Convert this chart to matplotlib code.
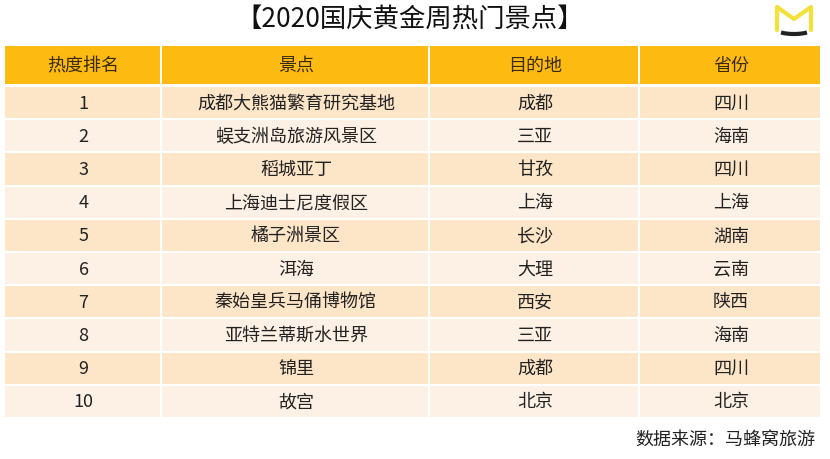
import matplotlib
matplotlib.use("Agg")
import matplotlib.pyplot as plt
from matplotlib.patches import Rectangle, Arc

plt.rcParams['font.family'] = ['Noto Sans CJK SC', 'DejaVu Sans']

title = "【2020国庆黄金周热门景点】"
headers = ["热度排名", "景点", "目的地", "省份"]
ranks = ["1", "2", "3", "4", "5", "6", "7", "8", "9", "10"]
spots = ["成都大熊猫繁育研究基地", "蜈支洲岛旅游风景区", "稻城亚丁", "上海迪士尼度假区",
         "橘子洲景区", "洱海", "秦始皇兵马俑博物馆", "亚特兰蒂斯水世界", "锦里", "故宫"]
cities = ["成都", "三亚", "甘孜", "上海", "长沙", "大理", "西安", "三亚", "成都", "北京"]
provinces = ["四川", "海南", "四川", "上海", "湖南", "云南", "陕西", "海南", "四川", "北京"]
source = "数据来源：马蜂窝旅游"

fig = plt.figure(figsize=(8.3, 4.6), dpi=100)
ax = fig.add_axes([0, 0, 1, 1])
ax.set_xlim(0, 830)
ax.set_ylim(460, 0)
ax.axis("off")

col_edges = [5, 162, 430, 640, 822]
header_top, header_h = 47, 38
row_top, row_h = 88, 33.2

ax.text(410, 20, title, ha="center", va="center", fontsize=19, fontweight="medium", color="#111111")

# header
for i, h in enumerate(headers):
    x0, x1 = col_edges[i], col_edges[i + 1]
    ax.add_patch(Rectangle((x0, header_top), x1 - x0 - 2, header_h, color="#fdbb11", lw=0))
    ax.text((x0 + x1) / 2, header_top + header_h / 2, h, ha="center", va="center",
            fontsize=13, color="#3a2a10")

rows = list(zip(ranks, spots, cities, provinces))
for r, vals in enumerate(rows):
    y = row_top + r * row_h
    fc = "#fde5c8" if r % 2 == 0 else "#fdf0e4"
    for i, v in enumerate(vals):
        x0, x1 = col_edges[i], col_edges[i + 1]
        ax.add_patch(Rectangle((x0, y), x1 - x0 - 2, row_h - 2, color=fc, lw=0))
        ax.text((x0 + x1) / 2, y + (row_h - 2) / 2, v, ha="center", va="center",
                fontsize=13, color="#222222")

ax.text(815, 441, source, ha="right", va="center", fontsize=13, color="#222222")

# logo
ax.plot([777, 777, 794, 811, 811], [31, 8, 20, 8, 31], color="#f3e03a", lw=3,
        solid_joinstyle="round", solid_capstyle="round")
ax.add_patch(Arc((794, 30), 36, 10, theta1=15, theta2=165, color="#222222", lw=3))

fig.savefig("out.png", dpi=100)
